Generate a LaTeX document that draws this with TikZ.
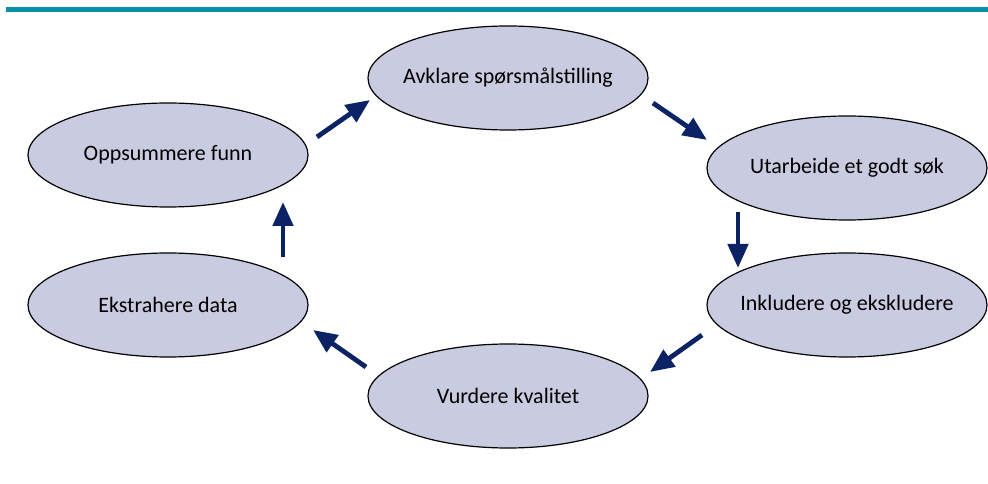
\documentclass[tikz,border=0pt]{standalone}
\usepackage{fontspec}
\setmainfont{Carlito}
\usetikzlibrary{arrows.meta,shapes.geometric}
\definecolor{teal1}{HTML}{0A8FAA}
\definecolor{navy1}{HTML}{0B2265}
\definecolor{lav}{HTML}{C9CBE1}
\tikzset{
        stepnode/.style={ellipse,draw=black,line width=0.9pt,fill=lav,inner xsep=-30pt,inner ysep=0pt,
                minimum width=210pt,minimum height=78pt,font=\fontsize{16.5}{19}\selectfont},
        arr/.style={-{Triangle[length=18pt,width=15pt]},line width=3.6pt,navy1}
}

\begin{document}
\begin{tikzpicture}[x=0.75pt,y=-0.75pt]
        \useasboundingbox (0,0) rectangle (988,484);
        \fill[teal1] (6,7.5) rectangle (988,12);

        \node[stepnode] (avk) at (508,78) {Avklare spørsmålstilling};
        \node[stepnode] (utb) at (847,168) {Utarbeide et godt søk};
        \node[stepnode] (ink) at (847,305) {Inkludere og ekskludere};
        \node[stepnode] (vur) at (508,396) {Vurdere kvalitet};
        \node[stepnode] (eks) at (168,305) {Ekstrahere data};
        \node[stepnode] (opp) at (168,155) {Oppsummere funn};

        % arrows between the steps
        \coordinate (a1) at (317,137); \coordinate (b1) at (370,100);
        \coordinate (a2) at (653,103); \coordinate (b2) at (707,140);
        \coordinate (a3) at (738,212); \coordinate (b3) at (738,268);
        \coordinate (a4) at (702,335); \coordinate (b4) at (650,372);
        \coordinate (a5) at (366,367); \coordinate (b5) at (313,330);
        \coordinate (a6) at (283,257); \coordinate (b6) at (283,202);
        \foreach \i in {1,...,6}{
                \draw[arr] (a\i) -- (b\i);
        }
\end{tikzpicture}
\end{document}
